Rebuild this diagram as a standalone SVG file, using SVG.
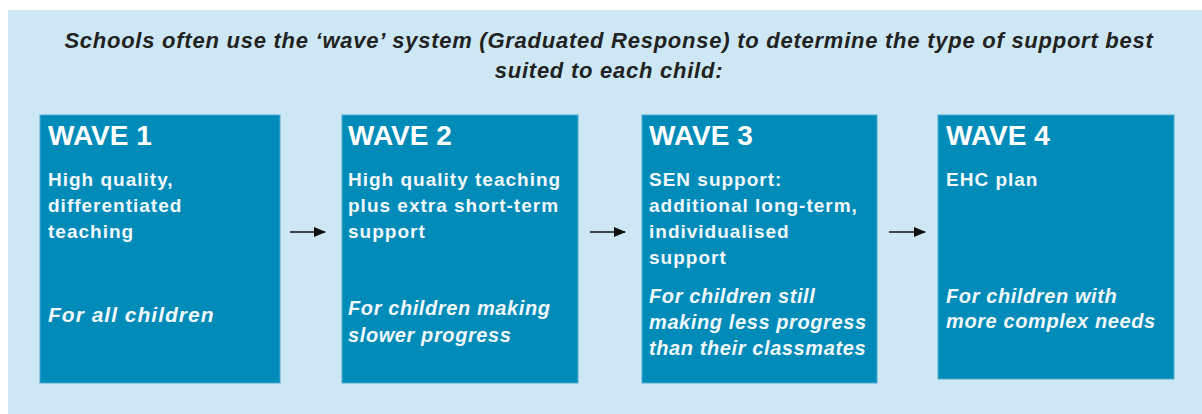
<svg xmlns="http://www.w3.org/2000/svg" width="1202" height="414" viewBox="0 0 1202 414">
<style>
.bg{fill:#cde8f4}
.box{fill:#008bb8;stroke:#4fa9cd;stroke-width:1}
.title{font-family:"Liberation Sans",Arial,sans-serif;font-weight:bold;font-style:italic;font-size:22px;letter-spacing:0.75px;fill:#222222;text-anchor:middle}
.wave{font-family:"Liberation Sans",Arial,sans-serif;font-weight:bold;font-size:28px;fill:#ffffff}
.body{font-family:"Liberation Sans",Arial,sans-serif;font-weight:bold;font-size:19px;letter-spacing:1px;fill:#f2f8fb}
.ital{font-family:"Liberation Sans",Arial,sans-serif;font-weight:bold;font-style:italic;font-size:20px;letter-spacing:0.6px;fill:#f2f8fb}
.ital1{font-family:"Liberation Sans",Arial,sans-serif;font-weight:bold;font-style:italic;font-size:21px;letter-spacing:1px;fill:#f2f8fb}
.conn{stroke:#111111;stroke-width:1.6;fill:none}
</style>
<defs>
<marker id="ah" markerWidth="12" markerHeight="10" refX="11" refY="5" orient="auto" markerUnits="userSpaceOnUse">
<path d="M0,0 L12,5 L0,10 Z" fill="#111111"/>
</marker>
</defs>
<rect x="0" y="0" width="1202" height="414" fill="#ffffff"/>
<rect class="bg" x="8" y="10" width="1194" height="404"/>
<g id="title">
<text class="title" x="609" y="48">Schools often use the ‘wave’ system (Graduated Response) to determine the type of support best</text>
<text class="title" x="609" y="78">suited to each child:</text>
</g>
<g id="wave1">
<rect class="box" x="40" y="115" width="240" height="268"/>
<text class="wave" x="48" y="145">WAVE 1</text>
<text class="body" x="48" y="186">High quality,</text>
<text class="body" x="48" y="212">differentiated</text>
<text class="body" x="48" y="238">teaching</text>
<text class="ital1" x="48" y="322">For all children</text>
</g>
<g id="wave2">
<rect class="box" x="342" y="115" width="236" height="268"/>
<text class="wave" x="348" y="145">WAVE 2</text>
<text class="body" x="348" y="186">High quality teaching</text>
<text class="body" x="348" y="212">plus extra short-term</text>
<text class="body" x="348" y="238">support</text>
<text class="ital" x="348" y="315">For children making</text>
<text class="ital" x="348" y="342">slower progress</text>
</g>
<g id="wave3">
<rect class="box" x="642" y="115" width="235" height="268"/>
<text class="wave" x="649" y="145">WAVE 3</text>
<text class="body" x="649" y="186">SEN support:</text>
<text class="body" x="649" y="212">additional long-term,</text>
<text class="body" x="649" y="238">individualised</text>
<text class="body" x="649" y="264">support</text>
<text class="ital" x="649" y="303">For children still</text>
<text class="ital" x="649" y="329">making less progress</text>
<text class="ital" x="649" y="355">than their classmates</text>
</g>
<g id="wave4">
<rect class="box" x="938" y="115" width="236" height="264"/>
<text class="wave" x="946" y="145">WAVE 4</text>
<text class="body" x="946" y="186">EHC plan</text>
<text class="ital" x="946" y="303">For children with</text>
<text class="ital" x="946" y="328">more complex needs</text>
</g>
<g id="connectors">
<line class="conn" x1="290" y1="232" x2="325" y2="232" marker-end="url(#ah)"/>
<line class="conn" x1="590" y1="232" x2="625" y2="232" marker-end="url(#ah)"/>
<line class="conn" x1="889" y1="232" x2="925" y2="232" marker-end="url(#ah)"/>
</g>
</svg>
